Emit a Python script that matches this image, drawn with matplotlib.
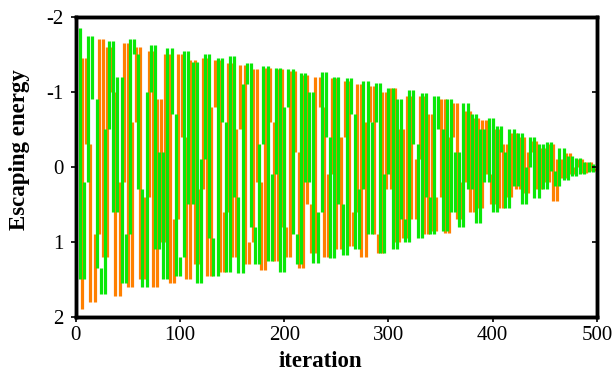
import matplotlib
matplotlib.use("Agg")
import matplotlib.pyplot as plt

plt.rcParams['font.family'] = ['Liberation Serif', 'DejaVu Serif']
plt.rcParams['axes.unicode_minus'] = False

green_t = list(range(0, 501, 4))
green_e = [-1.85, 1.5, 0.2, -1.75, -0.9, 1.35, 1.7, -0.5, -1.68, 0.6, -1.2, 1.55, 0.9, -1.7, -1.5, 0.3,
           1.6, -1.0, -1.62, 1.1, -0.2, 1.5, -1.58, -0.7, 1.45, 1.2, -1.55, 0.5, -1.4, 1.55, -0.1, -1.5,
           0.95, 1.45, -1.45, -0.6, 1.4, -1.48, 0.4, 1.42, -1.1, -1.38, 0.8, 1.3, -0.3, -1.35, 1.25, 0.1,
           -1.32, 1.4, -0.8, -1.3, 0.9, 1.3, -1.25, 0.2, -1.0, 1.28, 0.6, -1.27, -0.4, 1.22, -1.2, 0.5,
           1.18, -1.18, -0.7, 1.1, 0.3, -1.15, 0.9, -0.6, -1.12, 1.15, 0.1, -1.05, 1.1, -0.9, 0.7, 1.0,
           -1.02, -0.3, 0.95, -0.98, 0.4, 0.9, -0.95, -0.5, 0.85, -0.9, 0.6, -0.2, 0.8, -0.85, 0.3, -0.7,
           0.75, -0.5, 0.2, -0.65, 0.6, -0.55, -0.2, 0.55, -0.5, 0.25, -0.45, 0.5, 0.0, -0.4, 0.42, -0.3,
           0.3, -0.33, 0.05, 0.25, -0.25, 0.18, -0.15, 0.12, -0.12, 0.1, -0.06, 0.07, -0.04, 0.02]

orange_t = list(range(2, 499, 4))
orange_e = [1.9, -1.45, -0.3, 1.8, 0.9, -1.7, 1.2, -1.6, -1.0, 1.72, 0.2, -1.65, 1.6, -0.6, -1.6, 1.5,
            0.4, -1.55, 1.6, -0.9, 1.0, -1.5, 1.55, 0.7, -1.5, -0.4, 1.5, -1.42, 1.3, 0.3, -1.45, 1.45,
            -0.8, -1.42, 1.4, 0.6, -1.38, 1.2, -0.5, -1.36, 1.3, 1.0, -1.3, 0.2, 1.38, -1.32, -0.6, 1.25,
            -1.3, 0.8, 1.2, -1.28, -0.2, 1.35, -1.22, 0.5, 1.15, -1.2, -0.8, 1.2, 0.1, -1.18, 1.1, -0.4,
            -1.15, 1.05, 0.6, -1.1, 1.2, -0.6, -1.08, 0.9, 1.15, -1.0, 0.3, -1.05, 1.0, -0.5, 0.95, -0.95,
            0.7, -0.1, -0.95, 0.9, -0.7, 0.85, 0.4, -0.9, 0.88, -0.4, -0.85, 0.7, 0.2, -0.75, 0.6, -0.65,
            0.55, -0.62, 0.1, 0.5, -0.5, 0.55, -0.3, 0.4, -0.45, 0.3, -0.4, 0.35, -0.2, -0.35, 0.3, -0.25,
            0.2, -0.3, 0.45, -0.1, 0.15, -0.18, 0.1, 0.0, -0.1, 0.08, -0.06, 0.05, 0.02]

x_ticks = [0, 100, 200, 300, 400, 500]
y_ticks = [-2, -1, 0, 1, 2]

fig = plt.figure(figsize=(6.16, 3.76), dpi=100)
ax = fig.add_axes([0.123, 0.157, 0.846, 0.798])

# each iteration drawn as a vertical stroke from the previous value to the current one
n_o = min(len(orange_t), len(orange_e))
n_g = min(len(green_t), len(green_e))
ax.vlines(orange_t[1:n_o], orange_e[:n_o - 1], orange_e[1:n_o], color='#ff8000', lw=2.3,
          capstyle='butt', zorder=2)
ax.vlines(green_t[1:n_g], green_e[:n_g - 1], green_e[1:n_g], color='#08e808', lw=2.3,
          capstyle='butt', zorder=3)

ax.set_xlim(0, 500)
ax.set_ylim(2, -2)
ax.set_xticks(x_ticks)
ax.set_yticks(y_ticks)
ax.set_xticklabels([str(v) for v in x_ticks])
ax.set_yticklabels([str(v) for v in y_ticks])
ax.tick_params(axis='both', labelsize=15, length=3.5, width=1.2, direction='out')
ax.tick_params(axis='x', pad=3)
ax.tick_params(axis='y', pad=5)
for s in ax.spines.values():
    s.set_linewidth(2.5)

ax2 = ax.twinx()
ax2.set_ylim(2, -2)
ax2.set_yticks(y_ticks)
ax2.tick_params(axis='y', direction='in', length=3.5, width=1.2, labelright=False)
for s in ax2.spines.values():
    s.set_linewidth(2.5)

ax.set_xlabel('iteration', fontsize=16.5, fontweight='bold')
ax.xaxis.set_label_coords(0.47, -0.115)
ax.set_ylabel('Escaping energy', fontsize=16.5, fontweight='bold')
ax.yaxis.set_label_coords(-0.088, 0.557)

fig.savefig('out.png', dpi=100)
